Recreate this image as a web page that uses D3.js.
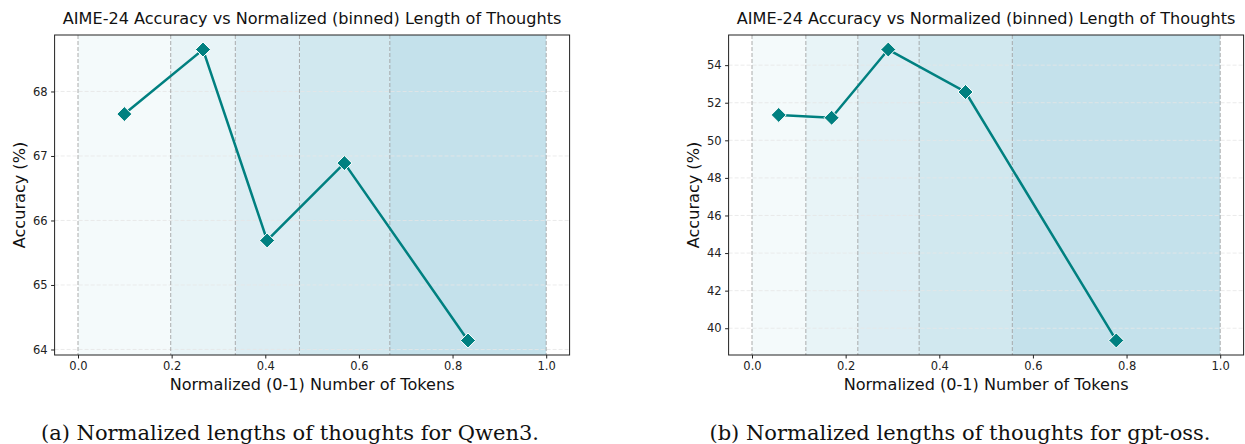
<!DOCTYPE html>
<html>
<head>
<meta charset="utf-8">
<script src="https://cdn.jsdelivr.net/npm/d3@7"></script>
<style>
  body { margin: 0; background: #fff; }
  svg { display: block; }
  .tick text { font-family: "DejaVu Sans", sans-serif; font-size: 11.5px; fill: #222; }
</style>
</head>
<body>
<div id="chart"></div>
<script>
// --- data ---
const qwenEdges = [0, 0.198, 0.336, 0.473, 0.666, 1.0];
const qwenX = [0.099, 0.267, 0.404, 0.569, 0.833];
const qwenAcc = [67.65, 68.65, 65.69, 66.89, 64.14];
const qwenYTicks = [64, 65, 66, 67, 68];

const gptEdges = [0, 0.115, 0.226, 0.357, 0.556, 1.0];
const gptX = [0.057, 0.170, 0.291, 0.456, 0.778];
const gptAcc = [51.35, 51.2, 54.83, 52.57, 39.35];
const gptYTicks = [40, 42, 44, 46, 48, 50, 52, 54];

const xTicks = [0, 0.2, 0.4, 0.6, 0.8, 1.0];
const binColors = ["#f4fafb", "#e8f4f7", "#dcedf3", "#d1e8ef", "#c4e1eb"];

const titleText = "AIME-24 Accuracy vs Normalized (binned) Length of Thoughts";
const xLabelText = "Normalized (0-1) Number of Tokens";
const yLabelText = "Accuracy (%)";

const W = 1245, H = 444;
const svg = d3.select("#chart").append("svg")
  .attr("width", W).attr("height", H);

function panel(left, edges, xs, ys, yTicks, caption, captionX) {
  const margin = { top: 35, bottom: 89 };
  const width = 515;
  const height = H - margin.top - margin.bottom;

  const xScale = d3.scaleLinear().domain([-0.05, 1.05]).range([0, width]);
  const yMin = d3.min(ys), yMax = d3.max(ys), pad = (yMax - yMin) * 0.05;
  const yScale = d3.scaleLinear().domain([yMin - pad, yMax + pad]).range([height, 0]);

  const g = svg.append("g").attr("transform", `translate(${left}, ${margin.top})`);

  // shaded bins
  g.selectAll("rect.bin")
    .data(d3.range(edges.length - 1))
    .enter().append("rect")
    .attr("class", "bin")
    .attr("x", i => xScale(edges[i]))
    .attr("width", i => xScale(edges[i + 1]) - xScale(edges[i]))
    .attr("y", 0)
    .attr("height", height)
    .attr("fill", i => binColors[i]);

  // horizontal grid
  g.selectAll("line.hgrid")
    .data(yTicks)
    .enter().append("line")
    .attr("class", "hgrid")
    .attr("x1", 0).attr("x2", width)
    .attr("y1", d => yScale(d)).attr("y2", d => yScale(d))
    .attr("stroke", "#e6e6e6")
    .attr("stroke-width", 0.8)
    .attr("stroke-dasharray", "4,2");

  // bin edges
  g.selectAll("line.edge")
    .data(edges)
    .enter().append("line")
    .attr("class", "edge")
    .attr("x1", d => xScale(d)).attr("x2", d => xScale(d))
    .attr("y1", 0).attr("y2", height)
    .attr("stroke", "#9a9a9a")
    .attr("stroke-opacity", 0.8)
    .attr("stroke-width", 1)
    .attr("stroke-dasharray", "4,2");

  const pts = xs.map((x, i) => ({ x, y: ys[i] }));

  const line = d3.line()
    .x(d => xScale(d.x))
    .y(d => yScale(d.y));

  g.append("path")
    .datum(pts)
    .attr("d", line)
    .attr("fill", "none")
    .attr("stroke", "#008080")
    .attr("stroke-width", 2.5);

  const r = 7.5;
  g.selectAll("path.marker")
    .data(pts)
    .enter().append("path")
    .attr("class", "marker")
    .attr("d", `M0,${-r}L${r},0L0,${r}L${-r},0Z`)
    .attr("transform", d => `translate(${xScale(d.x)}, ${yScale(d.y)})`)
    .attr("fill", "#008080")
    .attr("stroke", "#fff")
    .attr("stroke-width", 1);

  // frame
  g.append("rect")
    .attr("width", width).attr("height", height)
    .attr("fill", "none")
    .attr("stroke", "#222")
    .attr("stroke-width", 1);

  const xAxis = d3.axisBottom(xScale).tickValues(xTicks).tickFormat(d3.format(".1f")).tickSizeOuter(0).tickSize(3.5).tickPadding(3.5);
  g.append("g")
    .attr("transform", `translate(0, ${height})`)
    .call(xAxis)
    .call(s => s.select(".domain").remove());

  const yAxis = d3.axisLeft(yScale).tickValues(yTicks).tickFormat(d3.format("d")).tickSizeOuter(0).tickSize(3.5).tickPadding(3.5);
  g.append("g")
    .call(yAxis)
    .call(s => s.select(".domain").remove());

  g.selectAll(".tick line").attr("stroke", "#222");

  g.append("text")
    .attr("x", width / 2).attr("y", -11)
    .attr("text-anchor", "middle")
    .attr("font-family", "DejaVu Sans, sans-serif")
    .attr("font-size", 16.1)
    .attr("fill", "#111")
    .text(titleText);

  g.append("text")
    .attr("x", width / 2).attr("y", height + 35)
    .attr("text-anchor", "middle")
    .attr("font-family", "DejaVu Sans, sans-serif")
    .attr("font-size", 16.1)
    .attr("fill", "#111")
    .text(xLabelText);

  g.append("text")
    .attr("transform", `translate(-30, ${height / 2}) rotate(-90)`)
    .attr("text-anchor", "middle")
    .attr("font-family", "DejaVu Sans, sans-serif")
    .attr("font-size", 16.1)
    .attr("fill", "#111")
    .text(yLabelText);

  svg.append("text")
    .attr("x", captionX).attr("y", 440)
    .attr("text-anchor", "middle")
    .attr("font-family", "DejaVu Serif, serif")
    .attr("font-size", 21)
    .attr("fill", "#111")
    .text(caption);
}

panel(54.6, qwenEdges, qwenX, qwenAcc, qwenYTicks, "(a) Normalized lengths of thoughts for Qwen3.", 290);
panel(728.6, gptEdges, gptX, gptAcc, gptYTicks, "(b) Normalized lengths of thoughts for gpt-oss.", 960);
</script>
</body>
</html>
